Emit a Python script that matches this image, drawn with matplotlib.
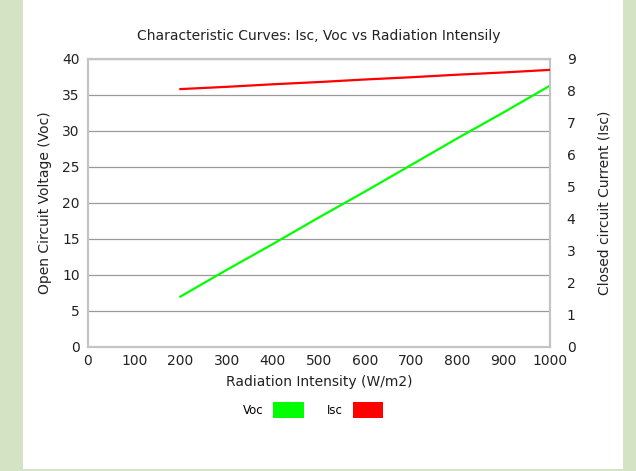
import matplotlib.pyplot as plt
from matplotlib.patches import Patch, Rectangle

radiation = [200, 300, 400, 500, 600, 700, 800, 900, 1000]
voc = [7.0, 10.7, 14.3, 18.0, 21.6, 25.3, 29.0, 32.6, 36.3]
isc = [8.06, 8.13, 8.21, 8.28, 8.36, 8.43, 8.51, 8.58, 8.66]

x_ticks = list(range(0, 1001, 100))
voc_ticks = list(range(0, 41, 5))
isc_ticks = list(range(0, 10))

BG = "#d5e3c5"
FRAME = "#c4c4c4"
GRID = "#9a9a9a"
TXT = "#222222"

plt.rcParams["font.family"] = "DejaVu Sans"

fig = plt.figure(figsize=(6.36, 4.71), dpi=100)
fig.patch.set_facecolor(BG)
# white panel behind everything
fig.add_artist(Rectangle((23 / 636, 2 / 471), (623 - 23) / 636, 1.0,
                         transform=fig.transFigure, facecolor="white",
                         edgecolor="none", zorder=-5))

ax = fig.add_axes([88 / 636, 124 / 471, 462 / 636, 288 / 471])
ax.set_facecolor("white")
ax2 = ax.twinx()

ax.plot(radiation, voc, color="#00ff00", lw=1.6, zorder=3)
ax2.plot(radiation, isc, color="#ff0000", lw=1.6, zorder=3)

ax.set_xlim(0, 1000)
ax.set_ylim(0, 40)
ax2.set_ylim(0, 9)
ax.set_xticks(x_ticks)
ax.set_yticks(voc_ticks)
ax2.set_yticks(isc_ticks)

ax.yaxis.grid(True, color=GRID, lw=0.9)
ax.set_axisbelow(True)

for a in (ax, ax2):
    for s in a.spines.values():
        s.set_color(FRAME)
        s.set_linewidth(1.5)
    a.tick_params(length=0, labelsize=10, colors=TXT)
ax.tick_params(axis="y", pad=6)
ax.tick_params(axis="x", pad=5)
ax2.tick_params(axis="y", pad=12)

ax.set_xlabel("Radiation Intensity (W/m2)", fontsize=10, color=TXT, labelpad=5)
ax.set_ylabel("Open Circuit Voltage (Voc)", fontsize=10, color=TXT, labelpad=7)
ax2.set_ylabel("Closed circuit Current (Isc)", fontsize=10, color=TXT, labelpad=16)
ax.set_title("Characteristic Curves: Isc, Voc vs Radiation Intensily",
             fontsize=10, color=TXT, pad=14)

handles = [Patch(facecolor="#00ff00", label="Voc"),
           Patch(facecolor="#ff0000", label="Isc")]
fig.legend(handles=handles, loc="center", bbox_to_anchor=(313 / 636, 1 - 410 / 471),
           ncol=2, frameon=False, markerfirst=False, fontsize=8.5,
           handlelength=2.6, handleheight=1.7, columnspacing=2.0, handletextpad=0.8)

fig.savefig("out.png", dpi=100, facecolor=BG)
